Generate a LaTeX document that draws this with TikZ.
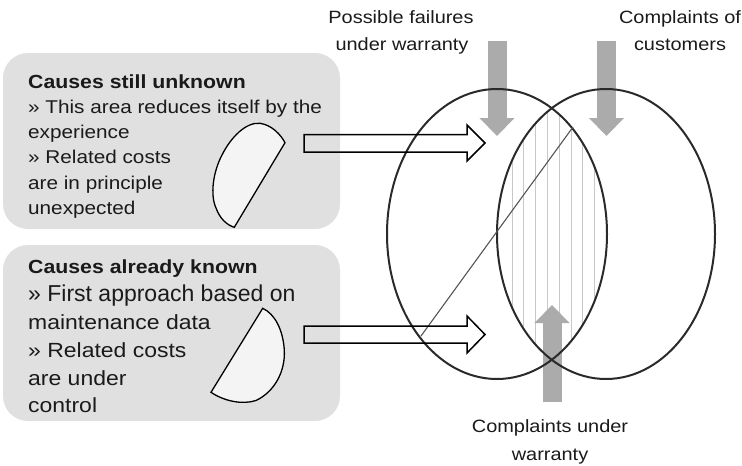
\documentclass[tikz,border=0pt]{standalone}
\usepackage{fontspec}
\usepackage{graphicx}
\setmainfont{Liberation Sans}
\usetikzlibrary{arrows.meta}

% text set slightly wider than the font's natural width
\newcommand\widetext[1]{\scalebox{1.12}[1]{#1}}

\definecolor{boxgray}{HTML}{E0E0E0}
\definecolor{arrowgray}{HTML}{ABABAB}
\definecolor{hatchgray}{HTML}{C8C8C8}
\definecolor{linedark}{HTML}{2A2A2A}
\definecolor{moonfill}{HTML}{F4F4F4}
\definecolor{textdark}{HTML}{1A1A1A}

\tikzset{
  infobox/.style={fill=boxgray, rounded corners=25pt},
  venn/.style={draw=linedark, line width=2pt},
  hatchline/.style={draw=hatchgray, line width=1pt},
  diagline/.style={draw=linedark!80, line width=1.1pt},
  grayarrow/.style={draw=arrowgray, line width=19pt,
    -{Triangle[width=34pt,length=18pt]}},
  outlinearrow/.style={draw=black, line width=1.5pt, line join=miter},
  moon/.style={draw=black, fill=moonfill, line width=1.3pt},
  boxtextA/.style={anchor=base west, inner sep=0pt, text=textdark,
    font=\fontsize{18.5}{22}\selectfont},
  boxtextB/.style={anchor=base west, inner sep=0pt, text=textdark,
    font=\fontsize{20.5}{24}\selectfont},
  boxtitle/.style={anchor=base west, inner sep=0pt, text=textdark,
    font=\bfseries\fontsize{19}{23}\selectfont},
  label/.style={anchor=base, inner sep=0pt, text=textdark,
    font=\fontsize{17.8}{21}\selectfont},
}

\begin{document}
\begin{tikzpicture}[x=1pt,y=-1pt]
\useasboundingbox (0,0) rectangle (742,466);

% explanation panels
\fill[infobox] (3,53) rectangle (340,229);
\fill[infobox] (3,245) rectangle (340,421);

% panel for causes still unknown
\node[boxtitle] (u1) at (28,88)  {\widetext{Causes still unknown}};
\node[boxtextA] (u2) at (28,113) {\widetext{» This area reduces itself by the}};
\node[boxtextA] (u3) at (28,138) {\widetext{experience}};
\node[boxtextA] (u4) at (28,163) {\widetext{» Related costs}};
\node[boxtextA] (u5) at (28,189) {\widetext{are in principle}};
\node[boxtextA] (u6) at (28,214) {\widetext{unexpected}};

% panel for causes already known
\node[boxtitle] (k1) at (28,273) {\widetext{Causes already known}};
\node[boxtextB] (k2) at (28,301) {\fontsize{23}{27}\selectfont » First approach based on};
\node[boxtextB] (k3) at (28,329) {\widetext{maintenance data}};
\node[boxtextB] (k4) at (28,357) {\widetext{» Related costs}};
\node[boxtextB] (k5) at (28,385) {\widetext{are under}};
\node[boxtextB] (k6) at (28,412) {\widetext{control}};

% half-moon symbols
\draw[moon] (285,142.7)
  .. controls (281,135) and (272,125) .. (260,123.3)
  .. controls (246,122) and (231,137) .. (222,155)
  .. controls (213,172) and (210,195) .. (216,208)
  .. controls (220,219) and (227,225) .. (234.3,227.3)
  -- cycle;
\draw[moon] (262.7,308.3)
  .. controls (275,314) and (283,330) .. (284.3,350)
  .. controls (285.5,372) and (274,392) .. (256,400.5)
  .. controls (242,405) and (224,401) .. (211,392.3)
  -- cycle;

% hatched intersection of the two sets
\begin{scope}
  \clip (497,234) ellipse [x radius=110pt, y radius=145pt];
  \clip (606,234) ellipse [x radius=109pt, y radius=145pt];
  \foreach \hx in {512,523.8,535.6,547.4,559.2,571,582.8,594.6}
    \draw[hatchline] (\hx,80) -- (\hx,390);
\end{scope}

% inflow arrows
\coordinate (pfTop) at (497,41);
\coordinate (pfTip) at (497,136);
\coordinate (ccTop) at (606.5,41);
\coordinate (ccTip) at (606.5,136);
\coordinate (cwBot) at (552,402);
\coordinate (cwTip) at (552,305);
\draw[grayarrow] (pfTop) -- (pfTip);
\draw[grayarrow] (ccTop) -- (ccTip);
\draw[grayarrow] (cwBot) -- (cwTip);

% the two sets
\node[draw=none, inner sep=0pt] (setA) at (497,234) {};
\node[draw=none, inner sep=0pt] (setB) at (606,234) {};
\draw[venn] (setA) ellipse [x radius=110pt, y radius=145pt];
\draw[venn] (setB) ellipse [x radius=109pt, y radius=145pt];

% separating diagonal
\coordinate (dLow) at (421,336);
\coordinate (dHigh) at (573,127);
\draw[diagline] (dLow) -- (dHigh);

% outlined arrows from the panels
\draw[outlinearrow] (304,134.5) -- (467,134.5) -- (467,125) -- (485,143)
  -- (467,161) -- (467,152) -- (304,152) -- cycle;
\draw[outlinearrow] (304,326) -- (467,326) -- (467,316) -- (485,334.5)
  -- (467,353) -- (467,343) -- (304,343) -- cycle;

% set labels
\node[label] (pf1) at (401,23) {\widetext{Possible failures}};
\node[label] (pf2) at (402,50) {\widetext{under warranty}};
\node[label] (cc1) at (680,23) {\widetext{Complaints of}};
\node[label] (cc2) at (680,50) {\widetext{customers}};
\node[label] (cw1) at (550,432) {\widetext{Complaints under}};
\node[label] (cw2) at (550,460) {\widetext{warranty}};
\end{tikzpicture}
\end{document}
